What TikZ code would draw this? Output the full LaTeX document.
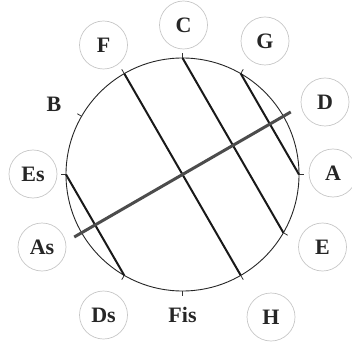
\documentclass[tikz,border=0pt]{standalone}
\usepackage{fontspec}
\setmainfont{Liberation Serif}
\usetikzlibrary{calc}
\begin{document}
\begin{tikzpicture}[x=1pt,y=1pt,
  lbl/.style={font=\fontsize{22}{22}\selectfont\bfseries, text=black!85},
  ring/.style={lbl, circle, draw=black!22, line width=0.7pt, minimum size=48pt, inner sep=0pt},
  chord/.style={line width=2pt, black!90},
  axisline/.style={line width=3pt, black!70},
  tick/.style={line width=0.8pt, black!80}]
\useasboundingbox (0,0) rectangle (352,348);
\coordinate (O) at (182.5,173.5);
\def\R{116.5}
\draw[line width=0.9pt, black!85] (O) circle (\R);
% points on circle and ticks
\foreach \n/\a in {pC/90,pG/60,pD/30,pA/0,pE/-30,pH/-60,pFis/-90,pDs/-120,pAs/-150,pEs/180,pB/150,pF/120}{
  \coordinate (\n) at ($(O)+(\a:\R)$);
  \coordinate (\n t) at ($(O)+(\a:\R+5)$);
  \draw[tick] (\n) -- (\n t);
}
% labels
\node[ring] (C) at (183.5,323) {C};
\node[ring] (F) at (103.5,303) {F};
\node[ring] (G) at (265,307) {G};
\node[ring] (D) at (325,246) {D};
\node[ring] (A) at (333,175) {A};
\node[ring] (E) at (322.5,101) {E};
\node[ring] (H) at (271,31) {H};
\node[lbl] (Fis) at (182.5,33) {Fis};
\node[ring] (Ds) at (103.5,33) {Ds};
\node[ring] (As) at (42,101) {As};
\node[ring] (Es) at (33,174) {Es};
\node[lbl] (B) at (54,244) {B};
% chords
\draw[chord] (pF) -- (pH);
\draw[chord] (pC) -- (pE);
\draw[chord] (pG) -- (pA);
\draw[chord] (pEs) -- (pDs);
% axis
\coordinate (axA) at ($(O)+(-150:\R+8.5)$);
\coordinate (axD) at ($(O)+(30:\R+8.5)$);
\draw[axisline] (axA) -- (axD);
\end{tikzpicture}
\end{document}
